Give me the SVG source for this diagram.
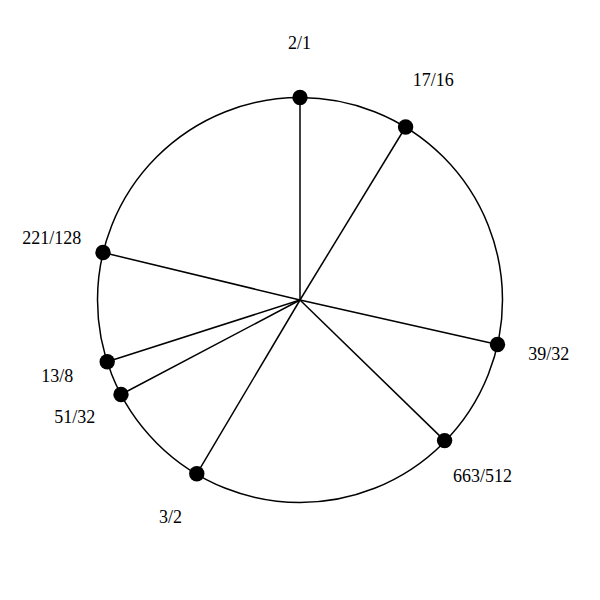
<svg xmlns="http://www.w3.org/2000/svg" width="600" height="600" viewBox="0 0 600 600">
<style>
.ring{fill:none;stroke:#000;stroke-width:1.5}
.spoke{stroke:#000;stroke-width:1.5}
.dot{fill:#000}
.lbl{font-family:"Liberation Serif","Times New Roman",serif;font-size:18px;fill:#000;text-anchor:middle}
</style>
<rect width="600" height="600" fill="#fff"/>
<circle class="ring" cx="300" cy="300" r="202.5"/>
<g id="connectors">
<line class="spoke" x1="300" y1="300" x2="300" y2="97.5"/>
<line class="spoke" x1="300" y1="300" x2="405.6" y2="127"/>
<line class="spoke" x1="300" y1="300" x2="497.5" y2="344.5"/>
<line class="spoke" x1="300" y1="300" x2="444.6" y2="440.6"/>
<line class="spoke" x1="300" y1="300" x2="196.8" y2="473.8"/>
<line class="spoke" x1="300" y1="300" x2="121" y2="394.5"/>
<line class="spoke" x1="300" y1="300" x2="107.2" y2="361.8"/>
<line class="spoke" x1="300" y1="300" x2="103" y2="252.5"/>
</g>
<g id="n-2-1"><circle class="dot" cx="300" cy="97.5" r="7.7"/><text class="lbl" x="299.5" y="48.5">2/1</text></g>
<g id="n-17-16"><circle class="dot" cx="405.6" cy="127" r="7.7"/><text class="lbl" x="433.3" y="86">17/16</text></g>
<g id="n-39-32"><circle class="dot" cx="497.5" cy="344.5" r="7.7"/><text class="lbl" x="548.8" y="359.5">39/32</text></g>
<g id="n-663-512"><circle class="dot" cx="444.6" cy="440.6" r="7.7"/><text class="lbl" x="482.5" y="481.8">663/512</text></g>
<g id="n-3-2"><circle class="dot" cx="196.8" cy="473.8" r="7.7"/><text class="lbl" x="170.5" y="523.4">3/2</text></g>
<g id="n-51-32"><circle class="dot" cx="121" cy="394.5" r="7.7"/><text class="lbl" x="74.7" y="423.4">51/32</text></g>
<g id="n-13-8"><circle class="dot" cx="107.2" cy="361.8" r="7.7"/><text class="lbl" x="57.3" y="382.4">13/8</text></g>
<g id="n-221-128"><circle class="dot" cx="103" cy="252.5" r="7.7"/><text class="lbl" x="51.7" y="244.2">221/128</text></g>
</svg>
